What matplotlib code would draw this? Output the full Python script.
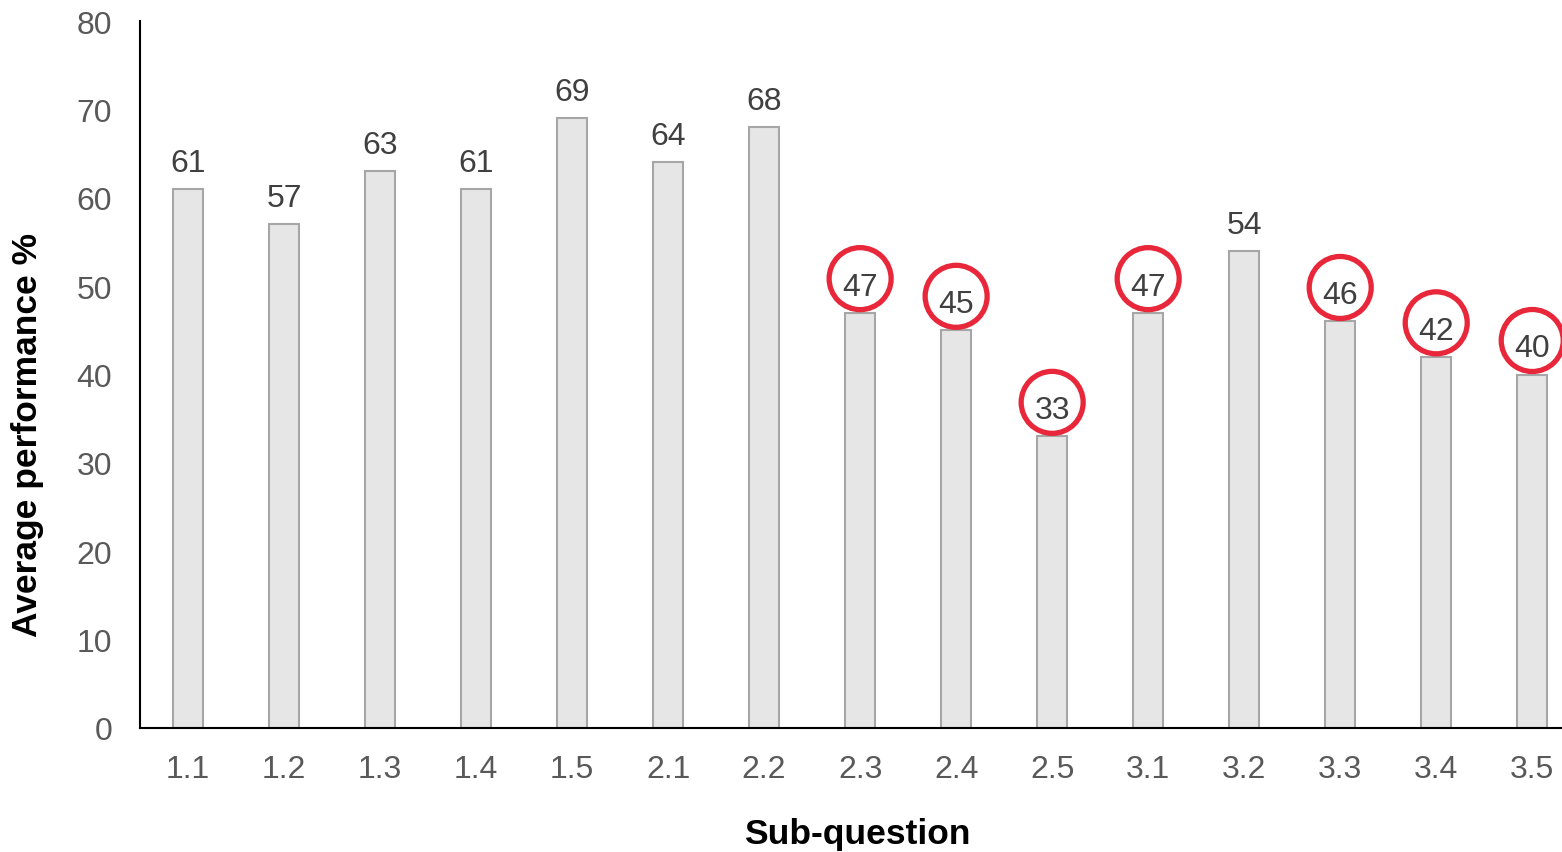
import matplotlib
matplotlib.use("Agg")
import matplotlib.pyplot as plt
from matplotlib.patches import Ellipse

categories = ["1.1", "1.2", "1.3", "1.4", "1.5", "2.1", "2.2", "2.3", "2.4", "2.5",
              "3.1", "3.2", "3.3", "3.4", "3.5"]
values = [61, 57, 63, 61, 69, 64, 68, 47, 45, 33, 47, 54, 46, 42, 40]
highlighted = ["2.3", "2.4", "2.5", "3.1", "3.3", "3.4", "3.5"]

plt.rcParams['font.family'] = ['Liberation Sans', 'DejaVu Sans']

W, H = 1562, 853
fig = plt.figure(figsize=(W / 100, H / 100), dpi=100)
ax = fig.add_axes([140 / W, (H - 729) / H, (W - 140) / W, (729 - 22) / H])

x = list(range(len(categories)))
ax.bar(x, values, width=0.31, color="#e6e6e6", edgecolor="#a6a6a6", linewidth=1.5, zorder=2)

ax.set_ylim(0, 80)
ax.set_xlim(-0.5, 14.31)
ax.set_yticks(range(0, 81, 10))
ax.set_xticks(x)
ax.set_xticklabels(categories)
ax.tick_params(axis='both', length=0, labelsize=23, colors="#595959")
ax.tick_params(axis='x', pad=19)
ax.tick_params(axis='y', pad=20)

for s in ['top', 'right']:
    ax.spines[s].set_visible(False)
for s in ['left', 'bottom']:
    ax.spines[s].set_color('black')
    ax.spines[s].set_linewidth(1.5)

fig.text(28 / W, (H - 435) / H, "Average performance %", rotation=90, ha='center', va='center',
         fontsize=25.5, fontweight='bold', color='black')
fig.text(857 / W, (H - 835) / H, "Sub-question", ha='center', va='center',
         fontsize=25.5, fontweight='bold', color='black')

# px per data unit
ppx = (W - 140) / (14.31 + 0.5)
ppy = (729 - 22) / 80.0

for xi, cat, v in zip(x, categories, values):
    ax.annotate(str(v), (xi, v), xytext=(0, 18), textcoords='offset pixels',
                ha='center', va='baseline', fontsize=23, color="#404040", zorder=4)
    if cat in highlighted:
        cy = v + 34 / ppy
        r = 31
        e = Ellipse((xi, cy), width=2 * r / ppx, height=2 * r / ppy, fill=False,
                    edgecolor="#e8283a", linewidth=3.8, zorder=3, clip_on=False)
        ax.add_patch(e)

fig.savefig("out.png", dpi=100)
